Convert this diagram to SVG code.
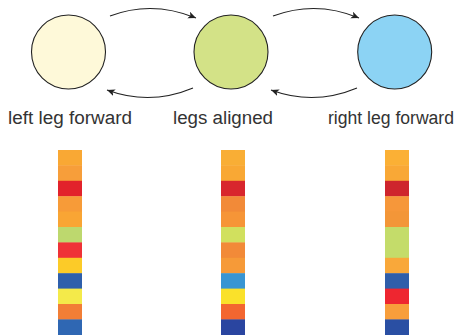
<svg xmlns="http://www.w3.org/2000/svg" width="461" height="335" viewBox="0 0 461 335">
<style>
.node circle{stroke:#222;stroke-width:1.1}
.label{font-family:"Liberation Sans",Arial,sans-serif;font-size:18px;fill:#333}
.conn path{fill:none;stroke:#222;stroke-width:1.1}
</style>
<defs>
<marker id="ah" markerUnits="userSpaceOnUse" markerWidth="10" markerHeight="8" refX="8" refY="3.5" orient="auto">
<path d="M0,0 L8,3.5 L0,7 L2,3.5 Z" fill="#222"/>
</marker>
</defs>
<rect width="461" height="335" fill="#fff"/>
<g id="node-left" class="node">
<circle cx="68.5" cy="52" r="37" fill="#FEF9D9"/>
<text class="label" x="8" y="124" textLength="124" lengthAdjust="spacingAndGlyphs">left leg forward</text>
</g>
<g id="node-aligned" class="node">
<circle cx="231" cy="52" r="37" fill="#D3E287"/>
<text class="label" x="173" y="124" textLength="100" lengthAdjust="spacingAndGlyphs">legs aligned</text>
</g>
<g id="node-right" class="node">
<circle cx="394.7" cy="52" r="37" fill="#8CD3F4"/>
<text class="label" x="328" y="124" textLength="126" lengthAdjust="spacingAndGlyphs">right leg forward</text>
</g>
<g class="conn" id="connectors">
<path d="M110,16 Q152,0 196,18" marker-end="url(#ah)"/>
<path d="M193,88 Q150,106 107,90" marker-end="url(#ah)"/>
<path d="M273,16 Q316,0 359,18" marker-end="url(#ah)"/>
<path d="M357,88 Q314,106 271,90" marker-end="url(#ah)"/>
</g>
<g id="strip-left">
<rect x="58" y="150" width="24" height="15.8" fill="#F9A834"/>
<rect x="58" y="165.4" width="24" height="15.8" fill="#F79E3A"/>
<rect x="58" y="180.8" width="24" height="15.8" fill="#E2222B"/>
<rect x="58" y="196.2" width="24" height="15.8" fill="#F79B38"/>
<rect x="58" y="211.6" width="24" height="15.8" fill="#F9A534"/>
<rect x="58" y="227" width="24" height="15.8" fill="#BDD86E"/>
<rect x="58" y="242.4" width="24" height="15.8" fill="#EF3237"/>
<rect x="58" y="257.8" width="24" height="15.8" fill="#FCCB28"/>
<rect x="58" y="273.2" width="24" height="15.8" fill="#2E5FAC"/>
<rect x="58" y="288.6" width="24" height="15.8" fill="#F4EA4A"/>
<rect x="58" y="304" width="24" height="15.8" fill="#F27E36"/>
<rect x="58" y="319.4" width="24" height="15.6" fill="#2F67B3"/>
</g>
<g id="strip-aligned">
<rect x="221" y="150" width="24" height="15.8" fill="#F9AE35"/>
<rect x="221" y="165.4" width="24" height="15.8" fill="#F9A834"/>
<rect x="221" y="180.8" width="24" height="15.8" fill="#D8262D"/>
<rect x="221" y="196.2" width="24" height="15.8" fill="#F28A38"/>
<rect x="221" y="211.6" width="24" height="15.8" fill="#F69537"/>
<rect x="221" y="227" width="24" height="15.8" fill="#D1E05E"/>
<rect x="221" y="242.4" width="24" height="15.8" fill="#F28A38"/>
<rect x="221" y="257.8" width="24" height="15.8" fill="#F69A38"/>
<rect x="221" y="273.2" width="24" height="15.8" fill="#3895D3"/>
<rect x="221" y="288.6" width="24" height="15.8" fill="#FAE12A"/>
<rect x="221" y="304" width="24" height="15.8" fill="#F36630"/>
<rect x="221" y="319.4" width="24" height="15.6" fill="#2A45A0"/>
</g>
<g id="strip-right">
<rect x="385" y="150" width="24" height="15.8" fill="#FBB035"/>
<rect x="385" y="165.4" width="24" height="15.8" fill="#F9A836"/>
<rect x="385" y="180.8" width="24" height="15.8" fill="#CE252D"/>
<rect x="385" y="196.2" width="24" height="15.8" fill="#F6973A"/>
<rect x="385" y="211.6" width="24" height="15.8" fill="#F39638"/>
<rect x="385" y="227" width="24" height="31" fill="#C4DC6A"/>
<rect x="385" y="257.8" width="24" height="15.8" fill="#F9A83A"/>
<rect x="385" y="273.2" width="24" height="15.8" fill="#2F5EAA"/>
<rect x="385" y="288.6" width="24" height="15.8" fill="#EE2630"/>
<rect x="385" y="304" width="24" height="15.8" fill="#F89E3B"/>
<rect x="385" y="319.4" width="24" height="15.6" fill="#2A4FA3"/>
</g>
</svg>
